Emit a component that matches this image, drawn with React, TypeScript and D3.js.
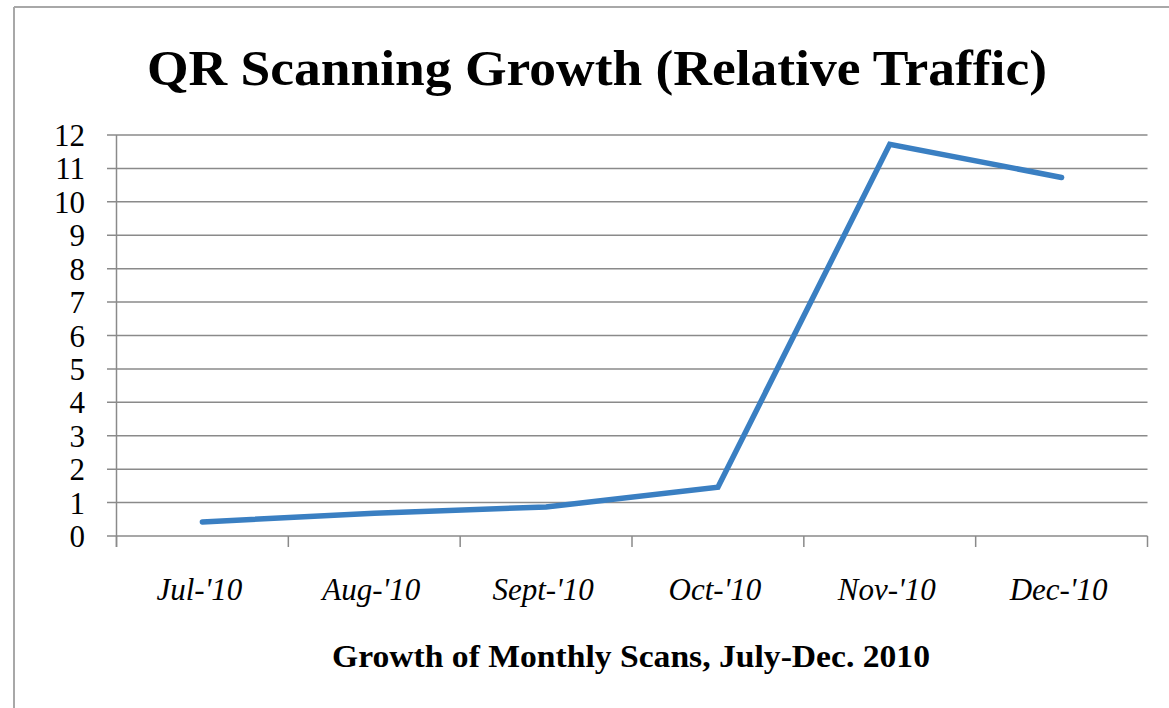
import React from "react";
import * as d3 from "d3";

const months = ["Jul-'10", "Aug-'10", "Sept-'10", "Oct-'10", "Nov-'10", "Dec-'10"];
const values = [0.42, 0.68, 0.87, 1.46, 11.72, 10.73];
const yTicks = [0, 1, 2, 3, 4, 5, 6, 7, 8, 9, 10, 11, 12];
const title = "QR Scanning Growth (Relative Traffic)";
const xTitle = "Growth of Monthly Scans, July-Dec. 2010";

const W = 1169;
const H = 708;
const left = 116.5;
const right = 1147.5;
const top = 135;
const bottom = 536;

export default function App() {
  const x = d3.scaleBand<string>().domain(months).range([left, right]).padding(0);
  const y = d3.scaleLinear().domain([0, 12]).range([bottom, top]);
  const line = d3
    .line<number>()
    .x((_, i) => (x(months[i]) as number) + x.bandwidth() / 2)
    .y((d) => y(d));
  const boundaries = months.map((m) => x(m) as number).concat([right]);
  const serif = "'Liberation Serif', 'Times New Roman', serif";
  const grid = "#8a8a8a";

  return (
    <svg
      width={W}
      height={H}
      style={{ position: "absolute", left: 0, top: 0, background: "#fff" }}
    >
      <rect x={0} y={0} width={W} height={H} fill="#fff" />
      {/* outer frame */}
      <line x1={14} y1={7} x2={W} y2={7} stroke="#a8a8a8" strokeWidth={2} />
      <line x1={14} y1={7} x2={14} y2={H} stroke="#a8a8a8" strokeWidth={2} />

      <text
        x={597}
        y={85}
        textAnchor="middle"
        fontFamily={serif}
        fontWeight="bold"
        fontSize={51}
        textLength={900}
        lengthAdjust="spacingAndGlyphs"
        fill="#000"
      >
        {title}
      </text>

      {/* gridlines + y ticks */}
      {yTicks.map((t) => (
        <g key={t}>
          <line x1={107} x2={right} y1={y(t)} y2={y(t)} stroke={grid} strokeWidth={1.5} />
          <text
            x={85}
            y={y(t) + 11}
            textAnchor="end"
            fontFamily={serif}
            fontSize={31}
            fill="#000"
          >
            {t}
          </text>
        </g>
      ))}
      {/* y axis */}
      <line x1={left} x2={left} y1={top} y2={547} stroke={grid} strokeWidth={1.5} />
      {/* x ticks */}
      {boundaries.map((b, i) => (
        <line key={i} x1={b} x2={b} y1={bottom} y2={547} stroke={grid} strokeWidth={1.5} />
      ))}
      {/* x labels */}
      {months.map((m) => (
        <text
          key={m}
          x={(x(m) as number) + x.bandwidth() / 2 - 3}
          y={600}
          textAnchor="middle"
          fontFamily={serif}
          fontStyle="italic"
          fontSize={31}
          fill="#000"
        >
          {m}
        </text>
      ))}

      <path
        d={line(values) || ""}
        fill="none"
        stroke="#3a7fc2"
        strokeWidth={5.5}
        strokeLinejoin="miter"
        strokeLinecap="round"
      />

      <text
        x={631}
        y={667}
        textAnchor="middle"
        fontFamily={serif}
        fontWeight="bold"
        fontSize={31}
        textLength={598}
        lengthAdjust="spacingAndGlyphs"
        fill="#000"
      >
        {xTitle}
      </text>
    </svg>
  );
}
